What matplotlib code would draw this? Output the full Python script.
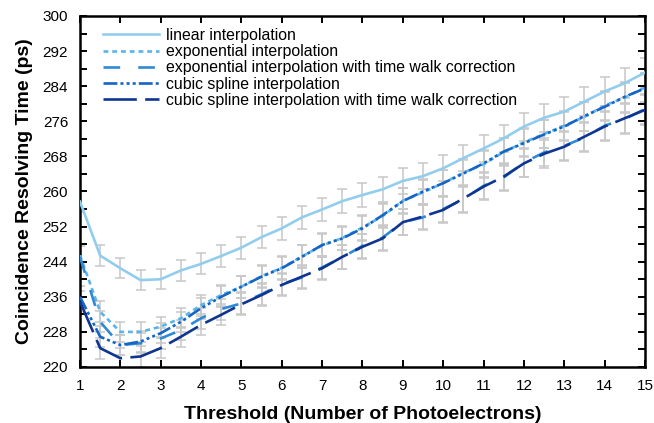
import numpy as np
import matplotlib
matplotlib.use("Agg")
import matplotlib.pyplot as plt
from matplotlib.ticker import MultipleLocator

plt.rcParams['font.family'] = ['Liberation Sans', 'DejaVu Sans']
plt.rcParams['lines.scale_dashes'] = False

# thresholds in photoelectrons
threshold = [1, 1.5, 2, 2.5, 3, 3.5, 4, 4.5, 5, 5.5, 6, 6.5, 7, 7.5, 8, 8.5, 9, 9.5,
             10, 10.5, 11, 11.5, 12, 12.5, 13, 13.5, 14, 14.5, 15]

# coincidence resolving time (ps)
crt_linear = [257.7, 245.4, 242.5, 239.8, 240.0, 242.0, 243.5, 245.3, 247.2, 249.6, 251.6,
              254.1, 255.9, 257.8, 259.2, 260.5, 262.4, 263.5, 265.3, 267.6, 269.8, 272.1,
              274.8, 276.8, 278.2, 280.5, 282.8, 284.7, 287.1]
crt_exp = [245.5, 232.6, 228.0, 228.0, 229.2, 231.1, 234.1, 236.4, 238.3, 240.7, 242.6,
           245.2, 247.7, 249.4, 251.8, 254.4, 257.9, 259.8, 261.9, 264.3, 266.2, 269.0,
           271.2, 273.1, 275.0, 277.0, 279.6, 281.4, 283.7]
crt_exp_tw = [245.1, 230.3, 225.0, 225.4, 226.5, 228.4, 231.1, 233.2, 234.5, 236.6, 238.9,
              240.4, 242.7, 245.0, 247.6, 249.5, 253.0, 254.1, 256.0, 258.2, 261.3, 263.2,
              266.6, 268.9, 270.4, 272.3, 275.0, 276.5, 278.8]
crt_cubic = [236.0, 226.9, 225.0, 225.8, 227.7, 230.3, 233.4, 236.0, 238.3, 240.6, 242.5,
             245.1, 247.8, 249.3, 251.6, 254.6, 257.8, 260.0, 261.9, 264.1, 266.4, 269.1,
             271.0, 273.0, 274.8, 277.2, 279.3, 281.6, 283.5]
crt_cubic_tw = [234.9, 224.3, 222.0, 222.4, 224.3, 226.9, 229.6, 231.9, 234.3, 236.4, 238.7,
                240.6, 242.5, 245.1, 247.4, 249.3, 253.0, 254.3, 255.8, 258.4, 261.1, 263.4,
                266.4, 268.6, 270.2, 272.5, 274.8, 276.7, 278.6]

# uncertainty (ps), one value per threshold
crt_err = [2.4, 2.4, 2.3, 2.3, 2.3, 2.3, 2.4, 2.4, 2.5, 2.5, 2.6, 2.6, 2.7, 2.7, 2.8, 2.8,
           2.9, 2.9, 3.0, 3.0, 3.1, 3.1, 3.2, 3.2, 3.3, 3.3, 3.3, 3.4, 3.4]

y_ticks = [220, 228, 236, 244, 252, 260, 268, 276, 284, 292, 300]

labels = ["linear interpolation",
          "exponential interpolation",
          "exponential interpolation with time walk correction",
          "cubic spline interpolation",
          "cubic spline interpolation with time walk correction"]
series = [crt_linear, crt_exp, crt_exp_tw, crt_cubic, crt_cubic_tw]
colors = ["#93cdee", "#5ab4ec", "#2f8ad6", "#1565c6", "#0e3590"]
dashes = [None, (3.5, 2.8), (12, 13), (10, 2.2, 2.2, 2.2, 2.2, 2.2, 2.2, 2.2), (24, 6)]

fig = plt.figure(figsize=(6.54, 4.23), dpi=100)
ax = fig.add_axes([0.1223, 0.1324, 0.8639, 0.8298])

for vals in series:
    ax.errorbar(threshold, vals, yerr=crt_err, fmt='none', ecolor='#c8c8c8',
                elinewidth=1.1, capsize=3.8, capthick=1.1, zorder=1)

for vals, lab, col, d in zip(series, labels, colors, dashes):
    line, = ax.plot(threshold, vals, color=col, lw=1.9, label=lab, zorder=3)
    if d is not None:
        line.set_dashes(d)

ax.set_xlim(1, 15)
ax.set_ylim(220, 300)
ax.xaxis.set_major_locator(MultipleLocator(1))
ax.set_yticks(y_ticks)
ax.yaxis.set_minor_locator(MultipleLocator(4))
ax.tick_params(which='both', direction='in', top=True, right=True, width=1.4,
               labelsize=11, length=5)
ax.tick_params(axis='y', pad=8.5)
ax.tick_params(axis='x', pad=9)
for s in ax.spines.values():
    s.set_linewidth(1.8)

ax.set_xlabel("Threshold (Number of Photoelectrons)", fontsize=14,
              fontweight='bold', labelpad=9)
ax.set_ylabel("Coincidence Resolving Time (ps)", fontsize=14,
              fontweight='bold', labelpad=7)

ax.legend(loc='upper left', frameon=False, fontsize=11.4, handlelength=3.5,
          handletextpad=0.5, labelspacing=0.08, borderaxespad=0.35,
          bbox_to_anchor=(0.02, 1.0))

fig.savefig("out.png", dpi=100)
